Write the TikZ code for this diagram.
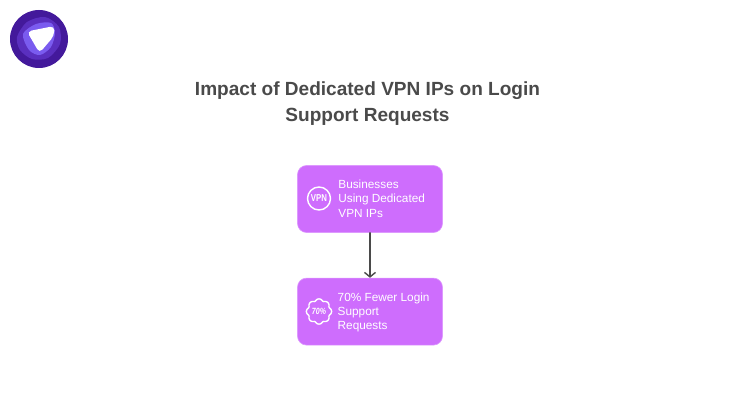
\documentclass[tikz,border=0pt]{standalone}
\usepackage{fontspec}
\setmainfont{Liberation Sans}
\usetikzlibrary{positioning,arrows.meta,calc}
\definecolor{boxpurple}{HTML}{CE6DFD}
\definecolor{titlegray}{HTML}{4A4A4A}
\definecolor{logoa}{HTML}{43199B}
\definecolor{logob}{HTML}{5A2FBF}
\definecolor{logoc}{HTML}{7A5BEF}
\tikzset{
	stepbox/.style={fill=boxpurple,draw=boxpurple!70!white,line width=0.6pt,rounded corners=9pt,minimum width=145pt,minimum height=67pt,inner sep=0pt},
	steptext/.style={text=white,font=\fontsize{11.8}{14.4}\selectfont,align=left,anchor=west,inner sep=0pt},
	iconline/.style={draw=white,line width=1.4pt},
	icontext/.style={text=white,font=\fontsize{10}{11}\bfseries\selectfont,inner sep=0pt,xscale=0.78}
}
\begin{document}
\begin{tikzpicture}[x=1pt,y=-1pt,line join=round,line cap=round]
	\useasboundingbox (0,0) rectangle (740,420);
	% logo
	\fill[logoa] (39,39) circle (29);
	\fill[logob] plot[smooth cycle] coordinates {(17,37) (27,22) (45,17) (59,27) (60,44) (48,58) (32,59) (20,50)};
	\fill[logoc] plot[smooth cycle] coordinates {(23,34) (36,24) (51,23) (55,33) (51,47) (40,55) (29,50)};
	\fill[white,rounded corners=4.5pt] (27,31.5) -- (54.5,26) -- (54,36) -- (39.5,53) -- cycle;
	% title
	\node[text=titlegray,font=\fontsize{19.05}{25.5}\bfseries\selectfont,align=center] (title) at (367.5,103.5) {Impact of Dedicated VPN IPs on Login\\Support Requests};
	% boxes
	\node[stepbox] (vpnbox) at (370,199) {};
	\node[stepbox,below=45pt of vpnbox] (fewerbox) {};
	\draw[{Straight Barb[length=4.5pt,width=11pt,line width=1.4pt]}-,line width=1.4pt,draw=titlegray] (fewerbox.north) -- (vpnbox.south);
	% first box
	\node[iconline,circle,minimum size=23pt,inner sep=0pt] (vpnicon) at (319,198.5) {};
	\node[icontext] (vpnlabel) at (vpnicon) {VPN};
	\node[steptext,right=7pt of vpnicon] (vpntext) {Businesses\\Using Dedicated\\VPN IPs};
	% second box
	\coordinate (fewercenter) at (319,311.5);
	\draw[iconline,fill=none] plot[smooth cycle,samples=72,domain=0:355] ({319+(10.6+2*abs(cos(4*\x)))*cos(\x)},{311.5+(10.6+2*abs(cos(4*\x)))*sin(\x)});
	\node[icontext,font=\fontsize{9}{10}\bfseries\itshape\selectfont] (fewerlabel) at (fewercenter) {70\%};
	\node[steptext,right=18.5pt of fewercenter,yshift=-1pt] (fewertext) {70\% Fewer Login\\Support\\Requests};
\end{tikzpicture}
\end{document}
